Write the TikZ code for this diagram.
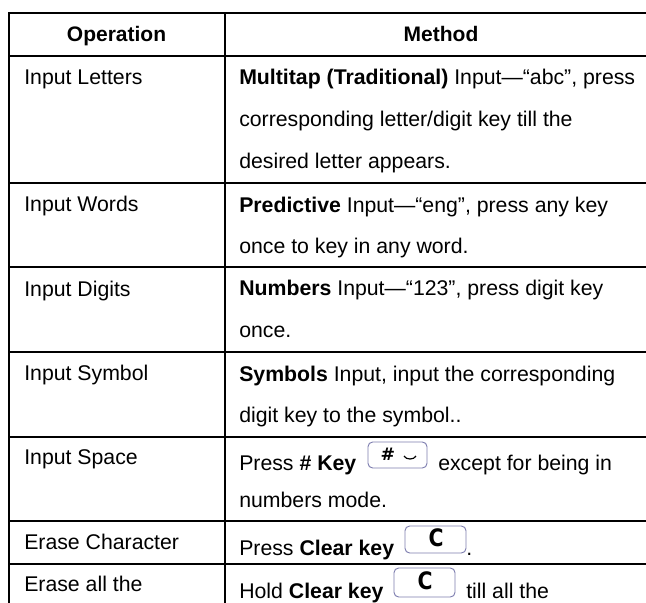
\documentclass[tikz,border=0pt]{standalone}
\usepackage{fontspec}
\setmainfont{Liberation Sans}
\newfontfamily\keyfont{DejaVu Sans}
\tikzset{
  x=0.75pt,y=-0.75pt,
  rule/.style={line width=1.5pt,black},
  txt/.style={inner sep=0pt,anchor=base west,font=\fontsize{15.95pt}{18pt}\selectfont},
  head/.style={inner sep=0pt,anchor=base,font=\fontsize{15.75pt}{18pt}\selectfont\bfseries},
  keyicon/.style={draw=keyblue,line width=0.7pt,rounded corners=3.5pt,fill=white},
  keyglyph/.style={inner sep=0pt,text=black,font=\fontsize{13pt}{14pt}\keyfont\bfseries},
  keyc/.style={inner sep=0pt,text=black,xscale=0.85,font=\fontsize{18pt}{18pt}\keyfont\bfseries}
}
\definecolor{keyblue}{RGB}{125,125,175}
\begin{document}
\begin{tikzpicture}
\useasboundingbox (0,0) rectangle (646,603);
\fill[white] (0,0) rectangle (646,603);
% grid
\coordinate (tl) at (8.7,12.7);
\coordinate (tm) at (225,12.7);
\coordinate (bl) at (8.7,603);
\coordinate (bm) at (225,603);
\draw[rule] (tl) -- (bl);
\draw[rule] (tm) -- (bm);
\foreach \yy in {12.7,55.7,182.7,266.7,351.7,436.7,520.7,564}{
  \draw[rule] (8,\yy) -- (646,\yy);
}
% headers
\node[head] (h1) at (116.5,41) {Operation};
\node[head] (h2) at (441,41) {Method};
% left
\node[txt] (l1) at (24,84) {Input Letters};
\node[txt] (l2) at (24,211) {Input Words};
\node[txt] (l3) at (24,296) {Input Digits};
\node[txt] (l4) at (24,380) {Input Symbol};
\node[txt] (l5) at (24,464) {Input Space};
\node[txt] (l6) at (24,549) {Erase Character};
\node[txt] (l7) at (24,591) {Erase all the};
% right
\node[txt] (r1a) at (239,84) {\textbf{Multitap (Traditional)} Input—“abc”, press};
\node[txt] (r1b) at (239,126) {corresponding letter/digit key till the};
\node[txt] (r1c) at (239,168) {desired letter appears.};
\node[txt] (r2a) at (239,212) {\textbf{Predictive} Input—“eng”, press any key};
\node[txt] (r2b) at (239,253) {once to key in any word.};
\node[txt] (r3a) at (239,295) {\textbf{Numbers} Input—“123”, press digit key};
\node[txt] (r3b) at (239,337) {once.};
\node[txt] (r4a) at (239,381) {\textbf{Symbols} Input, input the corresponding};
\node[txt] (r4b) at (239,422) {digit key to the symbol..};
\node[txt] (r5a) at (239,470) {Press \textbf{\# Key}};
\node[txt] (r5b) at (438,470) {except for being in};
\node[txt] (r5c) at (239,507) {numbers mode.};
\node[txt] (r6a) at (239,555) {Press \textbf{Clear key}};
\node[txt] (r6b) at (466,555) {.};
\node[txt] (r7a) at (239,598) {Hold \textbf{Clear key}};
\node[txt] (r7b) at (466,598) {till all the};
% keys
\draw[keyicon] (368,442) rectangle (427,468);
\node[keyglyph] (k1) at (388,454) {\#};
\draw[black,line width=0.9pt] (404,456) .. controls (406,460) and (414,460) .. (416,456);
\draw[keyicon] (405,526) rectangle (466,553);
\node[keyc] (k2) at (436,538) {C};
\draw[keyicon] (394,568) rectangle (455,597);
\node[keyc] (k3) at (425,581) {C};
\end{tikzpicture}
\end{document}
